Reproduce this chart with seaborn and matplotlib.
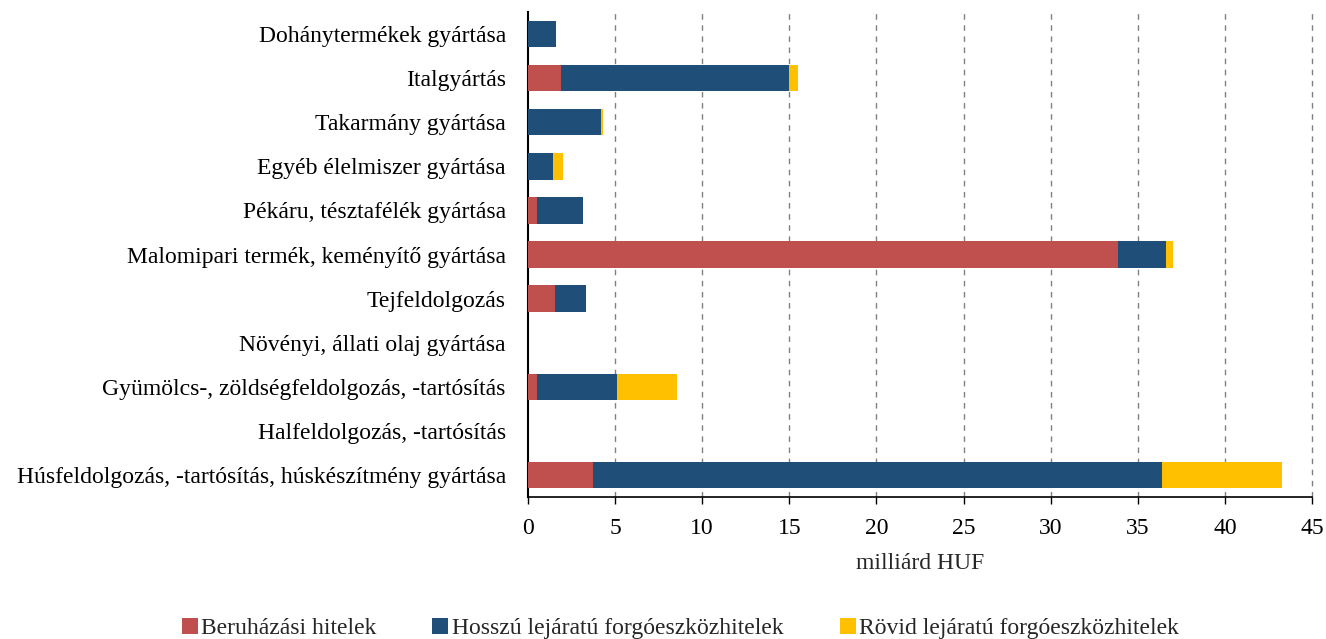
import matplotlib
matplotlib.use("Agg")
import matplotlib.pyplot as plt
import seaborn as sns
import pandas as pd
import numpy as np
from matplotlib.lines import Line2D

categories = [
    "Dohánytermékek gyártása",
    "Italgyártás",
    "Takarmány gyártása",
    "Egyéb élelmiszer gyártása",
    "Pékáru, tésztafélék gyártása",
    "Malomipari termék, keményítő gyártása",
    "Tejfeldolgozás",
    "Növényi, állati olaj gyártása",
    "Gyümölcs-, zöldségfeldolgozás, -tartósítás",
    "Halfeldolgozás, -tartósítás",
    "Húsfeldolgozás, -tartósítás, húskészítmény gyártása",
]
beruhazasi = [0.0, 1.88, 0.0, 0.0, 0.52, 33.87, 1.57, 0.0, 0.52, 0.0, 3.71]
hosszu = [1.60, 13.12, 4.20, 1.44, 2.62, 2.77, 1.78, 0.0, 4.59, 0.0, 32.68]
rovid = [0.0, 0.52, 0.11, 0.55, 0.0, 0.40, 0.0, 0.0, 3.44, 0.0, 6.89]
series_names = ["Beruházási hitelek", "Hosszú lejáratú forgóeszközhitelek", "Rövid lejáratú forgóeszközhitelek"]
colors = ["#C0504D", "#1F4E79", "#FFC000"]
xticks = [0, 5, 10, 15, 20, 25, 30, 35, 40, 45]

sns.set_theme(style="white")
plt.rcParams["font.family"] = ["Liberation Serif", "DejaVu Serif"]
FS = 17

df = pd.DataFrame({"cat": categories, "b": beruhazasi, "h": hosszu, "r": rovid})
df["c1"] = df["b"]
df["c2"] = df["b"] + df["h"]
df["c3"] = df["b"] + df["h"] + df["r"]

fig = plt.figure(figsize=(13.26, 6.39), dpi=100)
ax = fig.add_axes([528 / 1326, 1 - 497 / 639, (1312 - 528) / 1326, (497 - 12) / 639])

for col, c in zip(["c3", "c2", "c1"], [colors[2], colors[1], colors[0]]):
    sns.barplot(data=df, x=col, y="cat", order=categories, color=c, orient="y",
                width=0.6, ax=ax, saturation=1, linewidth=0, zorder=3)

ax.set_xlim(0, 45)
ax.set_xticks(xticks)
ax.set_xticklabels([str(t) for t in xticks], fontsize=FS)
ax.tick_params(axis="y", labelsize=FS, length=0, pad=16, colors="black")
ax.tick_params(axis="x", direction="out", length=5, width=1, colors="black", pad=10, bottom=True)
ax.set_ylabel("")
ax.set_xlabel("milliárd HUF", fontsize=FS, labelpad=10)
for t in ax.get_yticklabels() + ax.get_xticklabels():
    t.set_color("black")

for x in xticks[1:]:
    ax.axvline(x, color="#808080", linestyle=(0, (4, 4)), linewidth=1, zorder=1, clip_on=False)

for s in ["top", "right"]:
    ax.spines[s].set_visible(False)
ax.spines["left"].set_color("black")
ax.spines["left"].set_linewidth(1.5)
ax.spines["bottom"].set_color("black")
ax.spines["bottom"].set_linewidth(1.2)

handles = [Line2D([0], [0], marker="s", linestyle="", markersize=11, markerfacecolor=c,
                  markeredgewidth=0) for c in colors]
fig.legend(handles, series_names, loc="center", bbox_to_anchor=(0.5117, 1 - 628 / 639), ncol=3,
           frameon=False, fontsize=FS, handletextpad=0.0, columnspacing=2.2, handlelength=1.0)

fig.savefig("out.png", dpi=100)
